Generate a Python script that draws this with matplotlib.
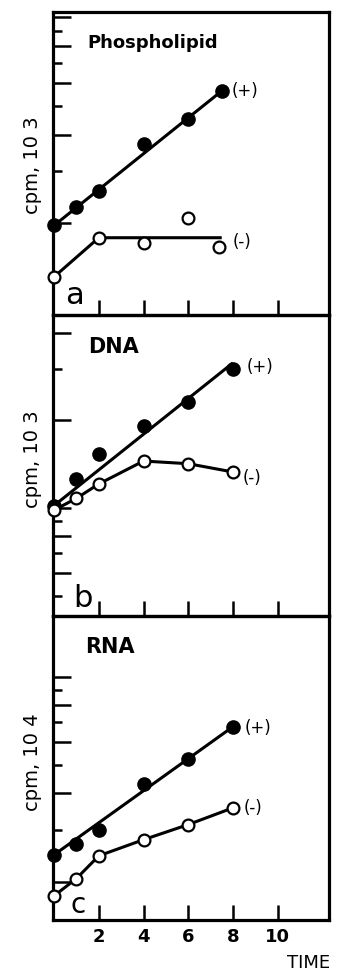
import matplotlib
matplotlib.use('Agg')
import matplotlib.pyplot as plt
from matplotlib.ticker import FixedLocator, NullFormatter

W, H, DPI = 339, 975, 100

time_ticks = [2, 4, 6, 8, 10]
time_tick_labels = ['2', '4', '6', '8', '10']

# Panel a: Phospholipid (cpm, 10^3)
pl_plus_x = [0, 1, 2, 4, 6, 7.5]
pl_plus_y = [1.97, 2.28, 2.58, 3.72, 4.52, 5.62]
pl_plus_fit_x = [0, 7.5]
pl_plus_fit_y = [1.97, 5.62]
pl_minus_x = [0, 2, 4, 6, 7.4]
pl_minus_y = [1.32, 1.79, 1.72, 2.08, 1.67]
pl_minus_fit_x = [0, 2, 7.5]
pl_minus_fit_y = [1.32, 1.79, 1.79]

# Panel b: DNA (cpm, 10^3)
dna_plus_x = [0, 1, 2, 4, 6, 8]
dna_plus_y = [10.2, 12.6, 15.3, 19.1, 23.1, 30.1]
dna_plus_fit_x = [0, 8]
dna_plus_fit_y = [10.2, 31.5]
dna_minus_x = [0, 1, 2, 4, 6, 8]
dna_minus_y = [9.84, 10.8, 12.1, 14.5, 14.2, 13.3]

# Panel c: RNA (cpm, 10^4)
rna_plus_x = [0, 1, 2, 4, 6, 8]
rna_plus_y = [2.47, 2.69, 3.01, 4.32, 5.25, 6.75]
rna_plus_fit_x = [0, 8]
rna_plus_fit_y = [2.47, 6.75]
rna_minus_x = [0, 1, 2, 4, 6, 8]
rna_minus_y = [1.79, 2.05, 2.45, 2.78, 3.13, 3.57]

fig = plt.figure(figsize=(W / DPI, H / DPI), dpi=DPI)
fig.patch.set_facecolor('white')

def px(x):
    return x / W

def py(y):
    return 1 - y / H

LW = 2.2
left, right = 53, 329

def make_axes(top, bottom, ylim, major, minor):
    ax = fig.add_axes([px(left), py(bottom), px(right) - px(left), (bottom - top) / H])
    ax.set_yscale('log')
    ax.set_xlim(-0.05, 12.3)
    ax.set_ylim(*ylim)
    ax.yaxis.set_major_locator(FixedLocator(major))
    ax.yaxis.set_minor_locator(FixedLocator(minor))
    ax.yaxis.set_major_formatter(NullFormatter())
    ax.yaxis.set_minor_formatter(NullFormatter())
    ax.xaxis.set_major_locator(FixedLocator(time_ticks))
    ax.xaxis.set_minor_locator(FixedLocator([]))
    ax.tick_params(axis='y', which='major', direction='in', length=13, width=1.8,
                   left=True, right=False)
    ax.tick_params(axis='y', which='minor', direction='in', length=6.5, width=1.8,
                   left=True, right=False)
    ax.tick_params(axis='x', which='major', direction='in', length=10.5, width=1.8,
                   bottom=True, top=False)
    for s in ax.spines.values():
        s.set_linewidth(2.3)
    ax.set_facecolor('none')
    return ax

def draw(ax, px_, py_, fx, fy, mx, my, mfx, mfy):
    ax.plot(fx, fy, color='black', lw=LW, solid_capstyle='butt', zorder=2)
    ax.plot(mfx, mfy, color='black', lw=LW, solid_capstyle='butt', zorder=2)
    ax.plot(px_, py_, 'o', ms=9.5, mfc='black', mec='black', zorder=3, clip_on=False)
    ax.plot(mx, my, 'o', ms=8.5, mfc='white', mec='black', mew=1.6, zorder=4, clip_on=False)

lab_kw = dict(textcoords='offset pixels', ha='left', va='center', fontsize=12,
              fontweight='medium')

# Panel a
axa = make_axes(12, 315, (0.98, 10.4), [2, 4, 6, 8, 10], [3, 5, 7, 9])
draw(axa, pl_plus_x, pl_plus_y, pl_plus_fit_x, pl_plus_fit_y,
     pl_minus_x, pl_minus_y, pl_minus_fit_x, pl_minus_fit_y)
axa.set_xticklabels([])
axa.annotate('(+)', xy=(pl_plus_x[-1], pl_plus_y[-1]), xytext=(10, 0), **lab_kw)
axa.annotate('(-)', xy=(pl_minus_x[-1], pl_minus_y[-1]), xytext=(13, 5), **lab_kw)

# Panel b
axb = make_axes(315, 616, (4.26, 46), [6, 8, 10, 20, 40], [5, 7, 9, 30])
draw(axb, dna_plus_x, dna_plus_y, dna_plus_fit_x, dna_plus_fit_y,
     dna_minus_x, dna_minus_y, dna_minus_x, dna_minus_y)
axb.set_xticklabels([])
axb.annotate('(+)', xy=(dna_plus_x[-1], dna_plus_y[-1]), xytext=(14, 2), **lab_kw)
axb.annotate('(-)', xy=(dna_minus_x[-1], dna_minus_y[-1]), xytext=(10, -6), **lab_kw)

# Panel c
axc = make_axes(616, 920, (1.48, 16.1), [2, 4, 6, 8, 10], [3, 5, 7, 9])
draw(axc, rna_plus_x, rna_plus_y, rna_plus_fit_x, rna_plus_fit_y,
     rna_minus_x, rna_minus_y, rna_minus_x, rna_minus_y)
axc.set_xticklabels(time_tick_labels, fontsize=13, fontweight='bold',
                    family=['Liberation Sans Narrow', 'DejaVu Sans'])
axc.tick_params(axis='x', pad=6)
axc.annotate('(+)', xy=(rna_plus_x[-1], rna_plus_y[-1]), xytext=(12, -1), **lab_kw)
axc.annotate('(-)', xy=(rna_minus_x[-1], rna_minus_y[-1]), xytext=(11, 0), **lab_kw)

# Titles
fig.text(px(87), py(48), 'Phospholipid', fontsize=13, fontweight='bold', va='baseline')
fig.text(px(88), py(353), 'DNA', fontsize=15, fontweight='bold', va='baseline')
fig.text(px(85), py(653), 'RNA', fontsize=15, fontweight='bold', va='baseline')

# Panel letters
fig.text(px(65), py(304), 'a', fontsize=22, va='baseline')
fig.text(px(73), py(607), 'b', fontsize=22, va='baseline')
fig.text(px(70), py(913), 'c', fontsize=20, va='baseline')

# Y labels
fig.text(px(33), py(165), 'cpm, 10 3', rotation=90, ha='center', va='center',
         fontsize=14, fontweight='medium')
fig.text(px(33), py(459), 'cpm, 10 3', rotation=90, ha='center', va='center',
         fontsize=14, fontweight='medium')
fig.text(px(33), py(762), 'cpm, 10 4', rotation=90, ha='center', va='center',
         fontsize=14, fontweight='medium')

fig.text(px(287), py(968), 'TIME', fontsize=13, va='baseline')

fig.savefig('out.png', dpi=DPI, facecolor='white')
